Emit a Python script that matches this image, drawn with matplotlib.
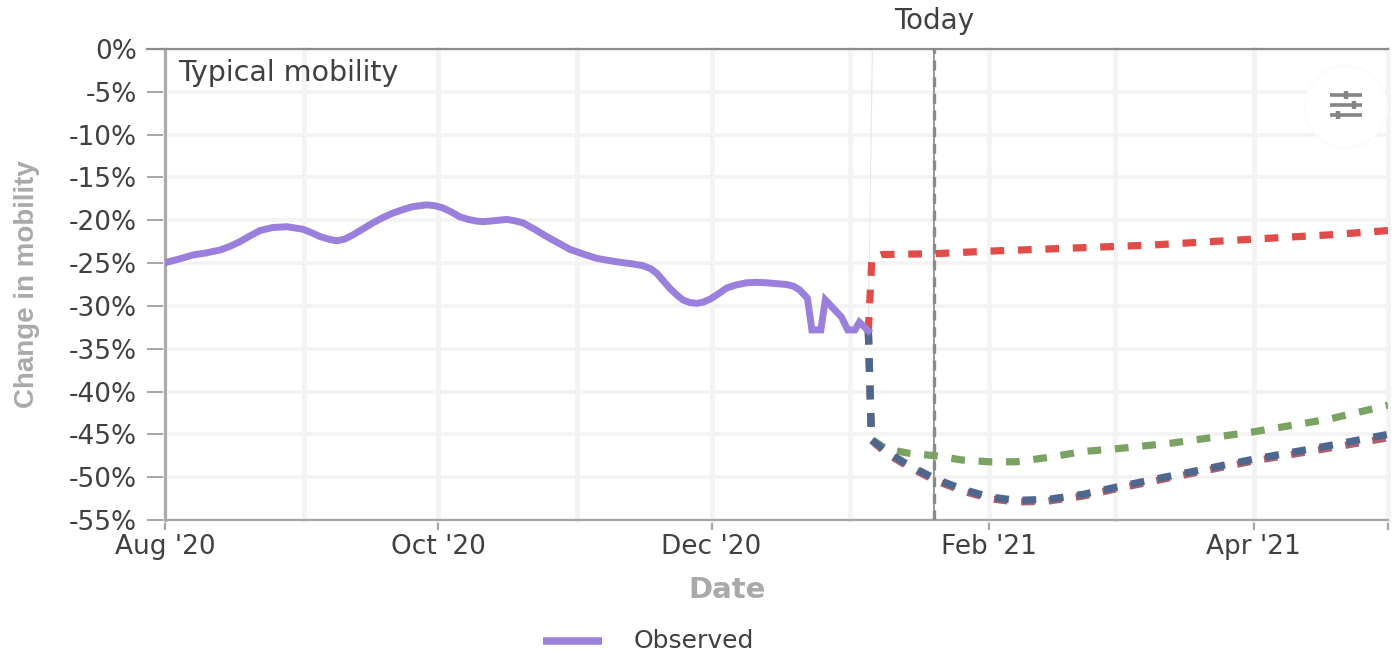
import matplotlib
matplotlib.use('Agg')
import matplotlib.pyplot as plt
import matplotlib.dates as mdates
from matplotlib.patches import Circle
import pandas as pd

plt.rcParams['font.family'] = ['DejaVu Sans']

W, H = 1394, 652
start = pd.Timestamp('2020-08-01')

# days since 1 Aug 2020, values in %
obs_days = [0, 3, 6.25, 9.3, 12.3, 14.5, 16.7, 18.9, 21.2, 24, 27.2, 30.8, 32.7, 34.6, 36.5, 38.3, 40.1, 42, 44.2,
            46.4, 48.6, 50.9, 53.1, 55.4, 58.4, 60.2, 62, 64, 65.8, 67.7, 69.6, 71, 72.5, 74.4, 76.3, 78, 79.9,
            82.5, 85.2, 87.8, 90.4, 93.4, 96.4, 99.3, 102.2, 104.5, 106.7, 108.4, 109.8, 111.2, 112.7, 114.2,
            115.6, 117.1, 118.7, 120.2, 121.7, 123.5, 125.4, 127.5, 129.8, 132, 134.3, 136.5, 138.8, 140.3,
            141.7, 143.4, 144.4, 146.4, 147.4, 151, 152.4, 154, 155, 157]
obs_vals = [-24.95, -24.55, -24.05, -23.8, -23.47, -23.05, -22.5, -21.85, -21.2, -20.85, -20.75, -21.05, -21.45,
            -21.9, -22.2, -22.4, -22.2, -21.7, -21.0, -20.3, -19.7, -19.15, -18.75, -18.4, -18.2, -18.3, -18.55,
            -19.05, -19.6, -19.9, -20.1, -20.15, -20.1, -20.0, -19.9, -20.05, -20.3, -21.05, -21.9, -22.65, -23.4,
            -23.95, -24.45, -24.72, -24.95, -25.1, -25.3, -25.65, -26.2, -27.05, -27.95, -28.7, -29.3, -29.6,
            -29.7, -29.55, -29.2, -28.6, -27.9, -27.55, -27.3, -27.25, -27.3, -27.4, -27.5, -27.7, -28.15, -29.1,
            -32.8, -32.8, -29.3, -31.3, -32.8, -32.8, -31.9, -32.9]

red_days = [157, 157.8, 160, 172, 184, 200, 220, 243, 260, 273]
red_vals = [-32.9, -24.4, -24.0, -23.9, -23.6, -23.3, -22.9, -22.2, -21.7, -21.2]

darkred_days = [157, 157.7, 161, 166, 172, 178, 184, 190, 197, 205, 212, 225, 243, 260, 273]
darkred_vals = [-32.9, -45.7, -47.2, -48.8, -50.4, -51.6, -52.5, -52.9, -52.8, -52.2, -51.4, -50.0, -48.1, -46.6, -45.4]

green_days = [157, 157.7, 161, 166, 172, 178, 184, 190, 197, 205, 212, 225, 243, 260, 273]
green_vals = [-32.9, -45.6, -46.7, -47.2, -47.5, -48.0, -48.2, -48.2, -47.7, -47.0, -46.7, -46.0, -44.7, -43.2, -41.6]

blue_days = [157, 157.7, 161, 166, 172, 178, 184, 190, 197, 205, 212, 225, 243, 260, 273]
blue_vals = [-32.9, -45.6, -47.0, -48.6, -50.2, -51.4, -52.3, -52.7, -52.6, -52.0, -51.2, -49.8, -47.9, -46.3, -45.0]

faint_days = [157, 157.9]
faint_vals = [-32.9, 0]

today_day = 171.6
month_grid = [0, 31, 61, 92, 122, 153, 184, 212, 243, 273]
xtick_days = [0, 61, 122, 184, 243, 273]
xtick_labels = ["Aug '20", "Oct '20", "Dec '20", "Feb '21", "Apr '21", ""]
ytick_vals = list(range(0, -60, -5))
ytick_labels = [f'{v}%' for v in ytick_vals]


def to_dates(days):
    return [start + pd.Timedelta(days=d) for d in days]


fig = plt.figure(figsize=(W / 100, H / 100), dpi=100)
ax = fig.add_axes([165 / W, (H - 520) / H, 1223 / W, 471 / H])
ax.set_xlim(start, start + pd.Timedelta(days=273))
ax.set_ylim(-55, 0)

for d in to_dates(month_grid):
    ax.axvline(d, color='#f3f3f3', lw=3.4, zorder=1, clip_on=False)
ax.set_yticks(ytick_vals)
ax.set_yticklabels(ytick_labels)
ax.set_xticks(to_dates(xtick_days))
ax.set_xticklabels(xtick_labels)
ax.grid(axis='y', color='#f3f3f3', lw=2.6, zorder=1)
ax.set_axisbelow(True)
ax.tick_params(axis='y', length=13, width=1.4, color='#a6a6a6', labelsize=19, labelcolor='#404040', pad=7)
ax.tick_params(axis='x', length=7, width=1.6, color='#a6a6a6', labelsize=19, labelcolor='#404040', pad=3)

ax.spines['right'].set_visible(False)
ax.spines['left'].set_color('#a6a6a6')
ax.spines['left'].set_linewidth(2)
ax.spines['bottom'].set_color('#a6a6a6')
ax.spines['bottom'].set_linewidth(1.6)
ax.spines['top'].set_color('#8c8c8c')
ax.spines['top'].set_linewidth(1.6)
ax.spines['top'].set_bounds(mdates.date2num(start - pd.Timedelta(days=4)), mdates.date2num(start + pd.Timedelta(days=273)))
ax.spines['top'].set_clip_on(False)

ax.plot(to_dates(faint_days), faint_vals, color='#e6e6e6', lw=0.8, zorder=2)

today = start + pd.Timedelta(days=today_day)
ax.axvline(today, color='#8a8a8a', lw=1.2, zorder=3)
ax.axvline(today, color='#8a8a8a', lw=2.4, dashes=(3, 2), zorder=3)
ax.text(today, 3.3, 'Today', ha='center', va='center', fontsize=20, color='#404040', clip_on=False)

lw = 5.2
dash = (1.9, 1.9)
ax.plot(to_dates(red_days), red_vals, color='#e04c4a', lw=lw, dashes=dash, dash_capstyle='butt', zorder=4)
ax.plot(to_dates(green_days), green_vals, color='#7aa363', lw=lw, dashes=dash, dash_capstyle='butt', zorder=4)
ax.plot(to_dates(darkred_days), darkred_vals, color='#b0606a', lw=lw, dashes=dash, dash_capstyle='butt', zorder=5)
ax.plot(to_dates(blue_days), blue_vals, color='#4d678f', lw=lw, dashes=dash, dash_capstyle='butt', zorder=6)
ax.plot(to_dates(obs_days), obs_vals, color='#9b7fdc', lw=5, solid_joinstyle='miter', zorder=7)

ax.text(0.011, 0.948, 'Typical mobility', transform=ax.transAxes, ha='left', va='center',
        fontsize=20.5, color='#404040', zorder=8)

# overlay in pixel coordinates for labels, legend and the settings button
over = fig.add_axes([0, 0, 1, 1], facecolor='none')
over.set_xlim(0, W)
over.set_ylim(H, 0)
over.axis('off')

over.text(27, 284, 'Change in mobility', rotation=90, ha='center', va='center', fontsize=20,
          family=['Liberation Sans'], fontweight='bold', color='#a9a9a9')
over.text(727, 590, 'Date', ha='center', va='center', fontsize=21, fontweight='bold', color='#a9a9a9')
over.plot([543, 602], [641, 641], color='#9b7fdc', lw=5.4, solid_capstyle='butt')
over.text(634, 641, 'Observed', ha='left', va='center', fontsize=18, color='#404040')

for r, c in [(42, '#fbfbfb'), (40, 'white')]:
    over.add_patch(Circle((1346, 107), r, color=c, lw=0, zorder=10))
for y, kx in [(95, 1346), (105, 1354), (115, 1338)]:
    over.plot([1330, 1362], [y, y], color='#858585', lw=2.6, solid_capstyle='butt', zorder=11)
    over.plot([kx, kx], [y - 4, y + 4], color='#858585', lw=3.2, solid_capstyle='butt', zorder=11)

fig.savefig('out.png', dpi=100)
